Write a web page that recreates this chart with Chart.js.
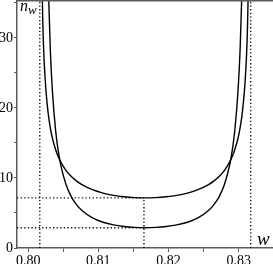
<!DOCTYPE html>
<html>
<head>
<meta charset="utf-8">
<script src="https://cdn.jsdelivr.net/npm/chart.js@4.4.0/dist/chart.umd.min.js"></script>
<style>
  html, body { margin: 0; padding: 0; background: #fff; }
  #wrap { width: 273px; height: 264px; position: relative; }
</style>
</head>
<body>
<div id="wrap"><canvas id="chart"></canvas></div>
<script>
// curve with the higher, wider bottom
const wOuter = [0.80194, 0.80209, 0.80224, 0.80240, 0.80255, 0.80285, 0.80315, 0.80345, 0.80390, 0.80420, 0.80465,
  0.80540, 0.80615, 0.80691, 0.80766, 0.80916, 0.81067, 0.81217, 0.81367, 0.81518, 0.81668,
  0.81818, 0.81969, 0.82119, 0.82270, 0.82420, 0.82570, 0.82645, 0.82721, 0.82796, 0.82871,
  0.82916, 0.82946, 0.82991, 0.83021, 0.83051, 0.83081, 0.83096, 0.83112, 0.83127, 0.83142];
const nOuter = [39.20, 31.74, 27.35, 24.38, 22.21, 19.19, 17.16, 15.67, 14.05, 13.23, 12.25,
  11.05, 10.20, 9.55, 9.05, 8.32, 7.84, 7.51, 7.31, 7.19, 7.15,
  7.19, 7.31, 7.51, 7.84, 8.32, 9.05, 9.55, 10.20, 11.05, 12.25,
  13.23, 14.05, 15.67, 17.16, 19.19, 22.21, 24.38, 27.35, 31.74, 39.20];

// curve with the low, flat bottom
const wInner = [0.80270, 0.80285, 0.80315, 0.80345, 0.80390, 0.80420, 0.80465, 0.80540, 0.80615, 0.80691,
  0.80766, 0.80916, 0.81067, 0.81217, 0.81367, 0.81518, 0.81668, 0.81818, 0.81969, 0.82119,
  0.82270, 0.82420, 0.82570, 0.82645, 0.82721, 0.82796, 0.82871, 0.82916, 0.82946, 0.82991,
  0.83021, 0.83051, 0.83066];
const nInner = [45.20, 37.90, 28.31, 22.37, 16.84, 14.39, 11.78, 9.02, 7.30, 6.16,
  5.35, 4.30, 3.68, 3.30, 3.07, 2.94, 2.90, 2.94, 3.07, 3.30,
  3.68, 4.30, 5.35, 6.16, 7.30, 9.02, 11.78, 14.39, 16.84, 22.37,
  28.31, 37.90, 45.20];

// dotted guide lines
const asymptotes = [0.80165, 0.83172];
const wMin = 0.8165;
const minima = [7.15, 2.9];

const xRange = [0.7984, 0.8349];
const yRange = [0, 35.4];
const xLabels = ["0.80", "0.81", "0.82", "0.83"];
const yLabels = [0, 10, 20, 30];

const serif = "Liberation Serif";
const axisGray = "#5a5a5a";

const toPoints = (xs, ys) => xs.map((x, i) => ({ x: x, y: ys[i] }));

const curve = (xs, ys) => ({
  data: toPoints(xs, ys),
  showLine: true,
  borderColor: "#000",
  borderWidth: 1.4,
  pointRadius: 0,
  cubicInterpolationMode: "monotone",
});

const dotted = (pts) => ({
  data: pts,
  showLine: true,
  borderColor: "#111",
  borderWidth: 1.4,
  borderDash: [1.3, 2.3],
  pointRadius: 0,
});

const datasets = [
  curve(wOuter, nOuter),
  curve(wInner, nInner),
  ...asymptotes.map((a) => dotted([{ x: a, y: yRange[0] }, { x: a, y: yRange[1] }])),
  dotted([{ x: wMin, y: yRange[0] }, { x: wMin, y: minima[0] }]),
  ...minima.map((m) => dotted([{ x: xRange[0], y: m }, { x: wMin, y: m }])),
];

// top frame line and the axis names
const frameAndLabels = {
  id: "frameAndLabels",
  afterDraw(chart) {
    const { ctx, chartArea } = chart;
    ctx.save();
    ctx.strokeStyle = axisGray;
    ctx.lineWidth = 1.5;
    ctx.beginPath();
    ctx.moveTo(chartArea.left, chartArea.top + 0.75);
    ctx.lineTo(chartArea.right, chartArea.top + 0.75);
    ctx.stroke();

    ctx.fillStyle = "#000";
    ctx.textBaseline = "alphabetic";
    ctx.font = "italic 16px " + serif;
    ctx.fillText("n", chartArea.left + 3, 11);
    ctx.font = "italic 13px " + serif;
    ctx.fillText("w", chartArea.left + 11, 14);
    ctx.font = "italic 19px " + serif;
    ctx.fillText("w", chartArea.right - 16, chartArea.bottom - 3);
    ctx.restore();
  },
};

new Chart(document.getElementById("chart"), {
  type: "scatter",
  data: { datasets },
  plugins: [frameAndLabels],
  options: {
    responsive: true,
    maintainAspectRatio: false,
    animation: false,
    layout: { padding: 0 },
    plugins: { legend: { display: false }, tooltip: { enabled: false } },
    scales: {
      x: {
        type: "linear",
        min: xRange[0],
        max: xRange[1],
        grid: { drawOnChartArea: false, tickLength: 4, color: axisGray },
        border: { color: axisGray, width: 1.5 },
        ticks: {
          stepSize: 0.005,
          includeBounds: false,
          autoSkip: false,
          maxRotation: 0,
          padding: 1,
          color: "#000",
          font: { family: serif, size: 14 },
          callback: (v) => {
            const s = v.toFixed(2);
            return xLabels.includes(s) && Math.abs(v - Number(s)) < 1e-6 ? s : "";
          },
        },
        afterFit: (s) => {
          s.height = 16;
          s.paddingLeft = 0;
          s.paddingRight = 0;
        },
      },
      y: {
        min: yRange[0],
        max: yRange[1],
        grid: { drawOnChartArea: false, tickLength: 3, color: axisGray },
        border: { color: axisGray, width: 1.5 },
        ticks: {
          stepSize: 5,
          includeBounds: false,
          padding: 1,
          color: "#000",
          font: { family: serif, size: 14 },
          callback: (v) => (yLabels.includes(v) ? String(v) : ""),
        },
        afterFit: (s) => {
          s.width = 17;
          s.paddingTop = 0;
          s.paddingBottom = 0;
        },
      },
    },
  },
});
</script>
</body>
</html>
